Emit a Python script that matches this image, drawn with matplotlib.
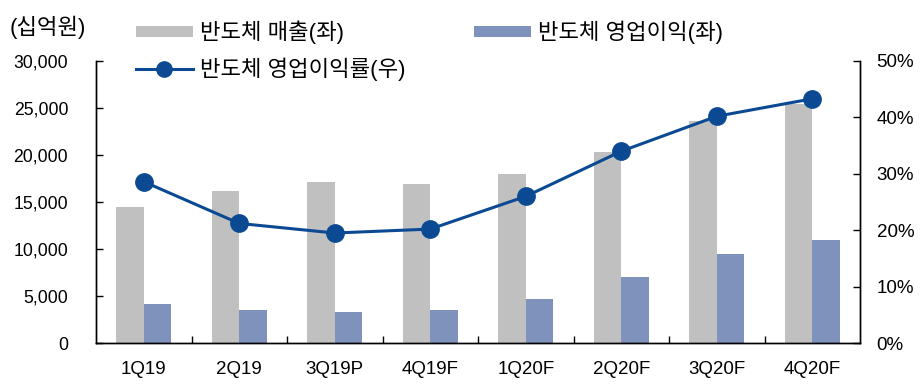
import matplotlib
matplotlib.use("Agg")
import matplotlib.pyplot as plt
import numpy as np
from matplotlib.patches import Patch
from matplotlib.lines import Line2D
from matplotlib.ticker import FuncFormatter, FixedLocator

plt.rcParams['font.family'] = ['Liberation Sans', 'Noto Sans CJK KR', 'DejaVu Sans']

categories = ["1Q19", "2Q19", "3Q19P", "4Q19F", "1Q20F", "2Q20F", "3Q20F", "4Q20F"]
sales = [14500, 16150, 17100, 16900, 17950, 20300, 23600, 25400]
op_profit = [4150, 3500, 3300, 3500, 4700, 7000, 9450, 10950]
op_margin = [28.6, 21.2, 19.5, 20.2, 26.0, 34.0, 40.2, 43.3]

left_ticks = [0, 5000, 10000, 15000, 20000, 25000, 30000]
right_ticks = [0, 10, 20, 30, 40, 50]

c_gray = "#c0c0c0"
c_bar = "#7f92bc"
c_line = "#0b4a93"

fig = plt.figure(figsize=(9.21, 3.91), dpi=100)
ax = fig.add_axes([96/921, 1-343/391, (860-96)/921, (343-61)/391])
ax2 = ax.twinx()

x = np.arange(len(categories))
w = 0.29
ax.bar(x - w/2, sales, width=w, color=c_gray, zorder=2)
ax.bar(x + w/2, op_profit, width=w, color=c_bar, zorder=2)
ax2.plot(x, op_margin, color=c_line, lw=2.2, marker='o', markersize=12.5, zorder=3)

ax.set_xlim(-0.5, len(categories) - 0.5)
ax.set_ylim(0, 30000)
ax2.set_ylim(0, 50)

ax.set_xticks(x)
ax.set_xticklabels(categories, fontsize=13.5)
ax.xaxis.set_minor_locator(FixedLocator(np.arange(0.5, len(categories) - 1, 1)))
ax.tick_params(axis='x', which='major', length=0, pad=13)
ax.tick_params(axis='x', which='minor', direction='in', length=5, width=1)

ax.set_yticks(left_ticks)
ax.yaxis.set_major_formatter(FuncFormatter(lambda v, p: f"{int(v):,}"))
ax.tick_params(axis='y', direction='in', length=5, width=1, labelsize=12.7, pad=20)

ax2.set_yticks(right_ticks)
ax2.yaxis.set_major_formatter(FuncFormatter(lambda v, p: f"{int(v)}%"))
ax2.tick_params(axis='y', direction='in', length=5, width=1, labelsize=13.5, pad=12)

for a in (ax, ax2):
    a.spines['top'].set_visible(False)
    for s in ('left', 'right', 'bottom'):
        a.spines[s].set_linewidth(1)
        a.spines[s].set_color('black')
ax.patch.set_visible(False)

fig.text(10/921, 1-27/391, "(십억원)", fontsize=16, va='center', ha='left')

handles = [
    Patch(facecolor=c_gray, edgecolor='none'),
    Line2D([0], [0], color=c_line, lw=2.2, marker='o', markersize=11),
    Patch(facecolor=c_bar, edgecolor='none'),
]
labels = ["반도체 매출(좌)", "반도체 영업이익률(우)", "반도체 영업이익(좌)"]
fig.legend(handles, labels, ncol=2, loc='upper left', bbox_to_anchor=(116/921, 1.0 - 1/391),
           frameon=False, fontsize=16, handlelength=2.55, handleheight=0.4,
           handletextpad=0.33, columnspacing=3.1, labelspacing=0.6)

fig.savefig("out.png", dpi=100)
